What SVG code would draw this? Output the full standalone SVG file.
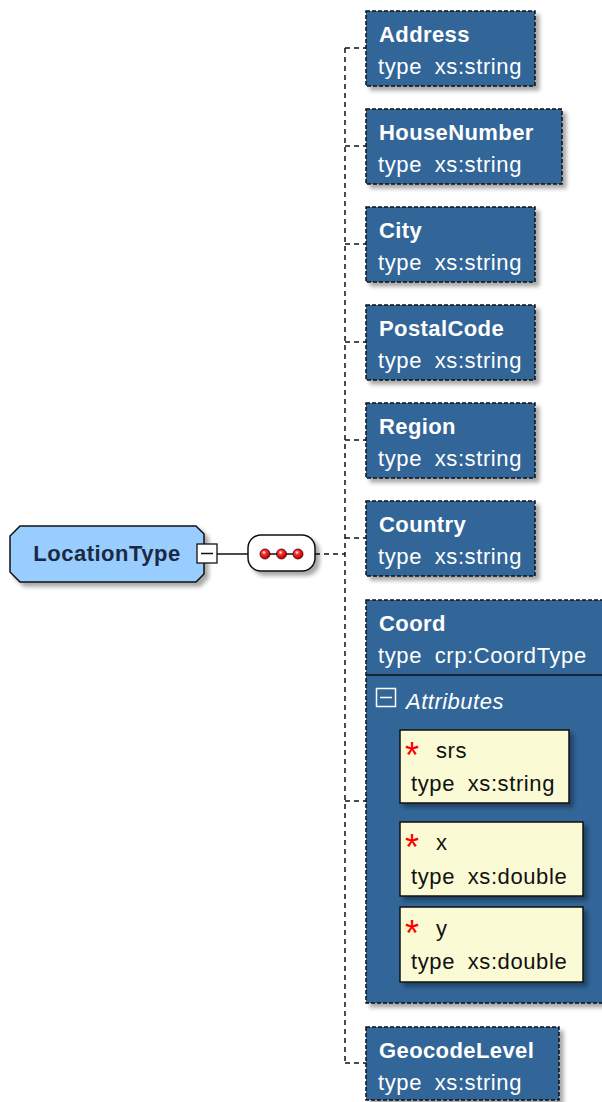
<svg xmlns="http://www.w3.org/2000/svg" width="602" height="1102" viewBox="0 0 602 1102">
  <style>
    .el { fill: #336699; stroke: #111; stroke-width: 1.5; stroke-dasharray: 4 2; }
    .attr { fill: #fafad4; stroke: #111; stroke-width: 1.5; }
    .name { font-family: "Liberation Sans", Arial, sans-serif; font-size: 22px; font-weight: bold; fill: #fff; letter-spacing: 0.4px; }
    .type { font-family: "Liberation Sans", Arial, sans-serif; font-size: 22px; fill: #fff; letter-spacing: 0.6px; word-spacing: 6px; }
    .aname { font-family: "Liberation Sans", Arial, sans-serif; font-size: 22px; fill: #111; letter-spacing: 0.6px; }
    .atype { font-family: "Liberation Sans", Arial, sans-serif; font-size: 22px; fill: #111; letter-spacing: 0.6px; word-spacing: 6px; }
    .req { font-family: "Liberation Sans", Arial, sans-serif; font-size: 36px; fill: #ff0000; }
    .conn { fill: none; stroke: #111; stroke-width: 1.5; stroke-dasharray: 5 4; }
  </style>
  <defs>
    <filter id="shadow" x="-10%" y="-10%" width="130%" height="130%">
      <feGaussianBlur in="SourceAlpha" stdDeviation="2"/>
      <feOffset dx="4" dy="4" result="b"/>
      <feComponentTransfer><feFuncA type="linear" slope="0.35"/></feComponentTransfer>
      <feMerge><feMergeNode/><feMergeNode in="SourceGraphic"/></feMerge>
    </filter>
    <radialGradient id="dot" cx="0.4" cy="0.35" r="0.6">
      <stop offset="0" stop-color="#fff"/>
      <stop offset="0.35" stop-color="#ff3030"/>
      <stop offset="1" stop-color="#c00000"/>
    </radialGradient>
  </defs>

  <!-- connectors -->
  <g id="connectors">
    <line x1="217" y1="554" x2="248" y2="554" stroke="#111" stroke-width="1.5"/>
    <line class="conn" x1="315" y1="554" x2="345" y2="554"/>
    <line class="conn" x1="345" y1="48" x2="345" y2="1063"/>
    <line class="conn" x1="345" y1="48" x2="366" y2="48"/>
    <line class="conn" x1="345" y1="146" x2="366" y2="146"/>
    <line class="conn" x1="345" y1="244" x2="366" y2="244"/>
    <line class="conn" x1="345" y1="342" x2="366" y2="342"/>
    <line class="conn" x1="345" y1="440" x2="366" y2="440"/>
    <line class="conn" x1="345" y1="538" x2="366" y2="538"/>
    <line class="conn" x1="345" y1="801" x2="366" y2="801"/>
    <line class="conn" x1="345" y1="1063" x2="366" y2="1063"/>
  </g>

  <!-- root complex type -->
  <g id="LocationType">
    <polygon points="20,526 196,526 204,534 204,574 196,582 20,582 10,572 10,536" fill="#99ccff" stroke="#111" stroke-width="1.5" filter="url(#shadow)"/>
    <text x="107" y="561" text-anchor="middle" font-family="Liberation Sans, Arial, sans-serif" font-size="22" font-weight="bold" fill="#1a2a44" letter-spacing="0.5">LocationType</text>
    <rect x="197" y="544" width="20" height="19" fill="#fff" stroke="#111" stroke-width="1.3"/>
    <line x1="201" y1="553.5" x2="213" y2="553.5" stroke="#111" stroke-width="1.5"/>
  </g>

  <!-- sequence compositor -->
  <g id="sequence">
    <rect x="248" y="535" width="67" height="36" rx="13" fill="#fff" stroke="#111" stroke-width="1.5" filter="url(#shadow)"/>
    <line x1="265" y1="554" x2="298" y2="554" stroke="#111" stroke-width="1.5"/>
    <circle cx="265" cy="554" r="5" fill="url(#dot)" stroke="#400" stroke-width="0.8"/>
    <circle cx="281.5" cy="554" r="5" fill="url(#dot)" stroke="#400" stroke-width="0.8"/>
    <circle cx="298" cy="554" r="5" fill="url(#dot)" stroke="#400" stroke-width="0.8"/>
  </g>

  <!-- child elements -->
  <g id="Address">
    <rect class="el" x="366" y="11" width="169" height="75" filter="url(#shadow)"/>
    <text class="name" x="379" y="42">Address</text>
    <text class="type" x="378" y="74">type xs:string</text>
  </g>
  <g id="HouseNumber">
    <rect class="el" x="366" y="109" width="196" height="75" filter="url(#shadow)"/>
    <text class="name" x="379" y="140">HouseNumber</text>
    <text class="type" x="378" y="172">type xs:string</text>
  </g>
  <g id="City">
    <rect class="el" x="366" y="207" width="169" height="75" filter="url(#shadow)"/>
    <text class="name" x="379" y="238">City</text>
    <text class="type" x="378" y="270">type xs:string</text>
  </g>
  <g id="PostalCode">
    <rect class="el" x="366" y="305" width="169" height="75" filter="url(#shadow)"/>
    <text class="name" x="379" y="336">PostalCode</text>
    <text class="type" x="378" y="368">type xs:string</text>
  </g>
  <g id="Region">
    <rect class="el" x="366" y="403" width="169" height="75" filter="url(#shadow)"/>
    <text class="name" x="379" y="434">Region</text>
    <text class="type" x="378" y="466">type xs:string</text>
  </g>
  <g id="Country">
    <rect class="el" x="366" y="501" width="169" height="75" filter="url(#shadow)"/>
    <text class="name" x="379" y="532">Country</text>
    <text class="type" x="378" y="564">type xs:string</text>
  </g>

  <g id="Coord">
    <rect class="el" x="366" y="600" width="250" height="403" filter="url(#shadow)"/>
    <text class="name" x="379" y="631">Coord</text>
    <text class="type" x="378" y="663">type crp:CoordType</text>
    <line x1="366" y1="675" x2="602" y2="675" stroke="#111" stroke-width="1.5"/>
    <rect x="376.5" y="688.5" width="19" height="18" fill="none" stroke="#fff" stroke-width="1.5"/>
    <line x1="380" y1="697.5" x2="392" y2="697.5" stroke="#fff" stroke-width="1.5"/>
    <text x="406" y="709" font-family="Liberation Sans, Arial, sans-serif" font-size="22" font-style="italic" fill="#fff" letter-spacing="0.5">Attributes</text>

    <g id="attr-srs">
      <rect class="attr" x="400" y="730" width="169" height="73" filter="url(#shadow)"/>
      <text class="req" x="405" y="768">*</text>
      <text class="aname" x="436" y="758">srs</text>
      <text class="atype" x="411" y="791">type xs:string</text>
    </g>
    <g id="attr-x">
      <rect class="attr" x="400" y="822" width="183" height="74" filter="url(#shadow)"/>
      <text class="req" x="405" y="860">*</text>
      <text class="aname" x="436" y="850">x</text>
      <text class="atype" x="411" y="884">type xs:double</text>
    </g>
    <g id="attr-y">
      <rect class="attr" x="400" y="907" width="183" height="75" filter="url(#shadow)"/>
      <text class="req" x="405" y="946">*</text>
      <text class="aname" x="436" y="936">y</text>
      <text class="atype" x="411" y="969">type xs:double</text>
    </g>
  </g>

  <g id="GeocodeLevel">
    <rect class="el" x="366" y="1027" width="193" height="73" filter="url(#shadow)"/>
    <text class="name" x="379" y="1058">GeocodeLevel</text>
    <text class="type" x="378" y="1090">type xs:string</text>
  </g>
</svg>
